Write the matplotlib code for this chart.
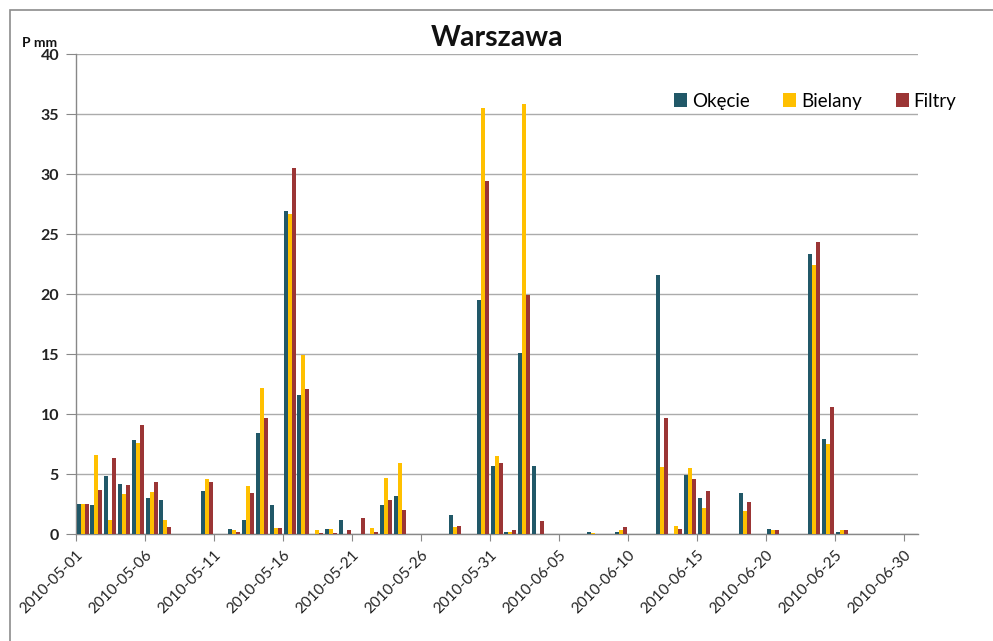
import matplotlib
matplotlib.use("Agg")
import matplotlib.pyplot as plt
import numpy as np
import pandas as pd
from matplotlib.patches import Rectangle

dates = pd.date_range("2010-05-01", "2010-06-30", freq="D")
okecie = [2.5, 2.4, 4.8, 4.2, 7.8, 3.0, 2.8, 0, 0, 3.6,
          0, 0.4, 1.2, 8.4, 2.4, 26.9, 11.6, 0, 0.4, 1.2,
          0, 0, 2.4, 3.2, 0, 0, 0, 1.6, 0, 19.5,
          5.7, 0.2, 15.1, 5.7, 0, 0, 0, 0.2, 0, 0.2,
          0, 0, 21.6, 0, 4.9, 3.0, 0, 0, 3.4, 0,
          0.4, 0, 0, 23.3, 7.9, 0.2, 0, 0, 0, 0, 0]
bielany = [2.5, 6.6, 1.2, 3.3, 7.6, 3.5, 1.2, 0, 0, 4.6,
           0, 0.3, 4.0, 12.2, 0.5, 26.7, 14.9, 0.3, 0.4, 0,
           0, 0.5, 4.7, 5.9, 0, 0, 0, 0.6, 0, 35.5,
           6.5, 0.2, 35.8, 0, 0, 0, 0, 0.1, 0, 0.3,
           0, 0, 5.6, 0.7, 5.5, 2.2, 0, 0, 1.9, 0,
           0.3, 0, 0, 22.4, 7.5, 0.3, 0, 0, 0, 0, 0]
filtry = [2.5, 3.7, 6.3, 4.1, 9.1, 4.3, 0.6, 0, 0, 4.3,
          0, 0.2, 3.4, 9.7, 0.5, 30.5, 12.1, 0.1, 0.1, 0.3,
          1.3, 0.2, 2.8, 2.0, 0, 0, 0, 0.7, 0, 29.4,
          5.9, 0.3, 19.9, 1.1, 0, 0, 0, 0, 0, 0.6,
          0, 0, 9.7, 0.4, 4.6, 3.6, 0, 0, 2.7, 0,
          0.3, 0, 0, 24.3, 10.6, 0.3, 0, 0, 0, 0, 0]
series_names = ["Okęcie", "Bielany", "Filtry"]
colors = ["#215868", "#FFC000", "#9B3535"]
title = "Warszawa"
ylabel = "P mm"

plt.rcParams['font.family'] = ['Lato', 'DejaVu Sans']

W, H = 993, 641
fig = plt.figure(figsize=(W / 100, H / 100), dpi=100)
ax = fig.add_axes([75.7 / W, 1 - 534 / H, (917.5 - 75.7) / W, (534 - 54) / H])

n = len(dates)
x = np.arange(n) + 0.5
bw = 0.29
for k, (vals, c, name) in enumerate(zip([okecie, bielany, filtry], colors, series_names)):
    ax.bar(x + (k - 1) * bw, vals, width=bw, color=c, label=name, zorder=3, linewidth=0)

ax.set_xlim(0, n)
ax.set_ylim(0, 40)
ax.set_yticks(np.arange(0, 41, 5))
ax.set_yticklabels([str(v) for v in range(0, 41, 5)], fontsize=11.5, fontweight='bold', color='#222222')
tick_idx = list(range(0, n, 5))
ax.set_xticks(tick_idx)
ax.set_xticklabels([dates[i].strftime("%Y-%m-%d") for i in tick_idx], rotation=45,
                   ha='right', rotation_mode='anchor', fontsize=11, color='#222222')
ax.grid(axis='y', color='#ABABAB', linewidth=1, zorder=0)
ax.set_axisbelow(True)
for s in ['top', 'right']:
    ax.spines[s].set_visible(False)
for s in ['left', 'bottom']:
    ax.spines[s].set_color('#888888')
    ax.spines[s].set_linewidth(1)
ax.tick_params(axis='y', length=7, color='#888888', pad=5)
ax.tick_params(axis='x', length=5, color='#888888', pad=5)

fig.text(497 / W, 1 - 38 / H, title, ha='center', va='center', fontsize=20.5, fontweight='bold', color='#111111')
fig.text(22 / W, 1 - 43 / H, ylabel, ha='left', va='center', fontsize=10, fontweight='bold', color='#111111')

fig.legend(loc='center', bbox_to_anchor=(815 / W, 1 - 101 / H), ncol=3, frameon=False,
           handlelength=0.7, handleheight=0.7, handletextpad=0.25, columnspacing=1.8,
           fontsize=13.5)

fig.patches.append(Rectangle((10 / W, -0.1), 1.2, 1 - 10 / H + 0.1, transform=fig.transFigure,
                             fill=False, edgecolor='#8C8C8C', linewidth=1.2, zorder=0))

fig.savefig("out.png", dpi=100, facecolor='white')
